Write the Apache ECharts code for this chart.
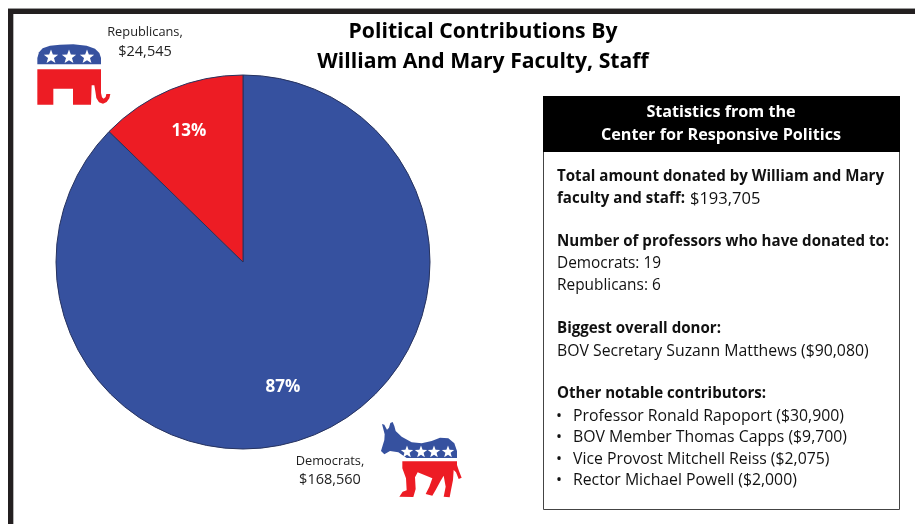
<!DOCTYPE html>
<html>
<head>
<meta charset="utf-8">
<style>html,body{margin:0;padding:0;background:#fff}#chart{width:915px;height:524px}</style>
<script src="https://cdn.jsdelivr.net/npm/echarts@6/dist/echarts.min.js"></script>
</head>
<body>
<div id="chart"></div>
<script>
// Contribution totals by party
const parties = ['Democrats', 'Republicans'];
const amounts = [168560, 24545];
const amountLabels = ['$168,560', '$24,545'];

// Headings
const titleLines = ['Political Contributions By', 'William And Mary Faculty, Staff'];
const panelHeading = ['Statistics from the', 'Center for Responsive Politics'];

// Statistics panel copy
const totalLines = ['Total amount donated by William and Mary', 'faculty and staff:', '$193,705'];
const professorHeading = 'Number of professors who have donated to:';
const professorCounts = ['Democrats: 19', 'Republicans: 6'];
const donorHeading = 'Biggest overall donor:';
const donorLine = 'BOV Secretary Suzann Matthews ($90,080)';
const notableHeading = 'Other notable contributors:';
const notableList = [
  'Professor Ronald Rapoport ($30,900)',
  'BOV Member Thomas Capps ($9,700)',
  'Vice Provost Mitchell Reiss ($2,075)',
  'Rector Michael Powell ($2,000)'
];

const BLUE = '#36519f', RED = '#ed1c24', INK = '#111', FONT = '"Open Sans"';

function text(str, x, y, size, weight, color, align) {
  return {
    type: 'text', silent: true,
    style: {
      text: str, x, y, fill: color || INK,
      font: (weight || 'normal') + ' ' + size + 'px ' + FONT,
      textAlign: align || 'left', textVerticalAlign: 'middle'
    }
  };
}
function poly(points, fill, smooth) {
  return { type: 'polygon', silent: true, shape: { points, smooth: smooth || 0 }, style: { fill } };
}
function rect(x, y, width, height, style) {
  return { type: 'rect', silent: true, shape: { x, y, width, height }, style };
}
function star(cx, cy, r) {
  const pts = [];
  for (let i = 0; i < 10; i++) {
    const a = -Math.PI / 2 + i * Math.PI / 5, q = i % 2 ? r * 0.42 : r;
    pts.push([cx + q * Math.cos(a), cy + q * Math.sin(a)]);
  }
  return poly(pts, '#fff');
}
// Scales icon outlines sketched on a 3x grid to page pixels
const grid = (ox, oy, pts) => pts.map(p => [ox + p[0] / 3, oy + p[1] / 3]);

// Republican elephant
const elephant = [
  poly(grid(30, 38, [[22,79],[22,60],[27,43],[38,31],[60,23],[90,20],[130,19],[170,23],[195,32],[208,45],[213,60],[213,79]]), BLUE),
  star(51, 57, 7.5), star(69, 57, 7.5), star(87, 57, 7.5),
  poly(grid(30, 38, [[22,94],[213,94],[213,165],[216,178],[221,182],[227,177],[229,168],[241,168],[238,181],[230,192],[219,197],[207,193],[199,180],[196,160],[193,142],[185,142],[183,200],[129,200],[129,152],[70,152],[70,200],[22,200]]), RED)
];

// Democratic donkey
const donkey = [
  poly(grid(375, 415, [[21,27],[28,29],[36,44],[42,38],[46,24],[53,21],[58,33],[62,48],[80,65],[110,82],[140,85],[170,78],[195,68],[220,70],[238,85],[246,108],[246,129],[95,129],[70,112],[45,108],[28,118],[18,108],[28,75],[29,58]]), BLUE),
  star(407, 452, 6.5), star(421, 452, 6.5), star(434, 452, 6.5), star(448, 452, 6.5),
  poly(grid(375, 415, [[82,139],[246,139],[246,150],[252,168],[260,188],[251,192],[243,172],[236,165],[234,195],[228,225],[224,247],[206,245],[212,215],[206,182],[197,197],[182,225],[172,242],[152,237],[163,215],[172,190],[128,172],[120,187],[122,222],[115,246],[73,245],[83,230],[95,226],[93,190],[82,160]]), RED)
];

const elements = [
  // Page frame along the top and left edges
  rect(8, 8, 907, 1.5, { fill: '#9a9a9a' }),
  rect(8, 9, 907, 5, { fill: '#231f20' }),
  rect(8, 9, 5, 515, { fill: '#231f20' }),
  rect(13, 14, 1, 510, { fill: '#b5b5b5' }),

  text(titleLines[0], 483, 32, 21.2, 'bold', '#000', 'center'),
  text(titleLines[1], 483, 62, 21.2, 'bold', '#000', 'center'),

  text(parties[1] + ',', 145, 32, 12.8, 'normal', '#222', 'center'),
  text(amountLabels[1], 145, 52, 14.5, 'normal', '#222', 'center'),
  text(parties[0] + ',', 330, 461, 12.8, 'normal', '#222', 'center'),
  text(amountLabels[0], 330, 480, 14.5, 'normal', '#222', 'center'),

  ...elephant, ...donkey,

  // Statistics panel
  rect(543.5, 96.5, 356, 413, { fill: '#fff', stroke: '#444', lineWidth: 1 }),
  rect(543, 96, 357, 56, { fill: '#000' }),
  text(panelHeading[0], 721, 112, 16.2, 'bold', '#fff', 'center'),
  text(panelHeading[1], 721, 135, 16.2, 'bold', '#fff', 'center'),

  text(totalLines[0], 557, 177, 15.1, 'bold'),
  text(totalLines[1], 557, 199, 15.1, 'bold'),
  text(totalLines[2], 690, 199, 16.5, 'normal'),

  text(professorHeading, 557, 242, 15.1, 'bold'),
  text(professorCounts[0], 557, 264, 15.4),
  text(professorCounts[1], 557, 286, 15.4),

  text(donorHeading, 557, 329, 15.1, 'bold'),
  text(donorLine, 557, 351, 15.8),

  text(notableHeading, 557, 394, 15.1, 'bold'),
  ...notableList.flatMap((item, i) => {
    const y = 416 + i * 21.6;
    return [text('\u2022', 556, y, 16), text(item, 573, y, 15.8)];
  })
];

const chart = echarts.init(document.getElementById('chart'), null, { renderer: 'canvas' });
chart.setOption({
  animation: false,
  backgroundColor: '#fff',
  series: [{
    type: 'pie',
    center: [243, 262],
    radius: 187,
    startAngle: 90,
    clockwise: true,
    percentPrecision: 0,
    silent: true,
    itemStyle: { borderColor: '#27335f', borderWidth: 1 },
    label: {
      position: 'inside',
      formatter: '{d}%',
      color: '#fff',
      fontFamily: FONT,
      fontWeight: 'bold',
      fontSize: 17
    },
    labelLine: { show: false },
    labelLayout: p => p.dataIndex === 0
      ? { x: 283, y: 387, align: 'center', verticalAlign: 'middle' }
      : { x: 189, y: 131, align: 'center', verticalAlign: 'middle' },
    data: parties.map((name, i) => ({
      name, value: amounts[i],
      itemStyle: { color: i === 0 ? BLUE : RED }
    }))
  }],
  graphic: { elements }
});
</script>
</body>
</html>
